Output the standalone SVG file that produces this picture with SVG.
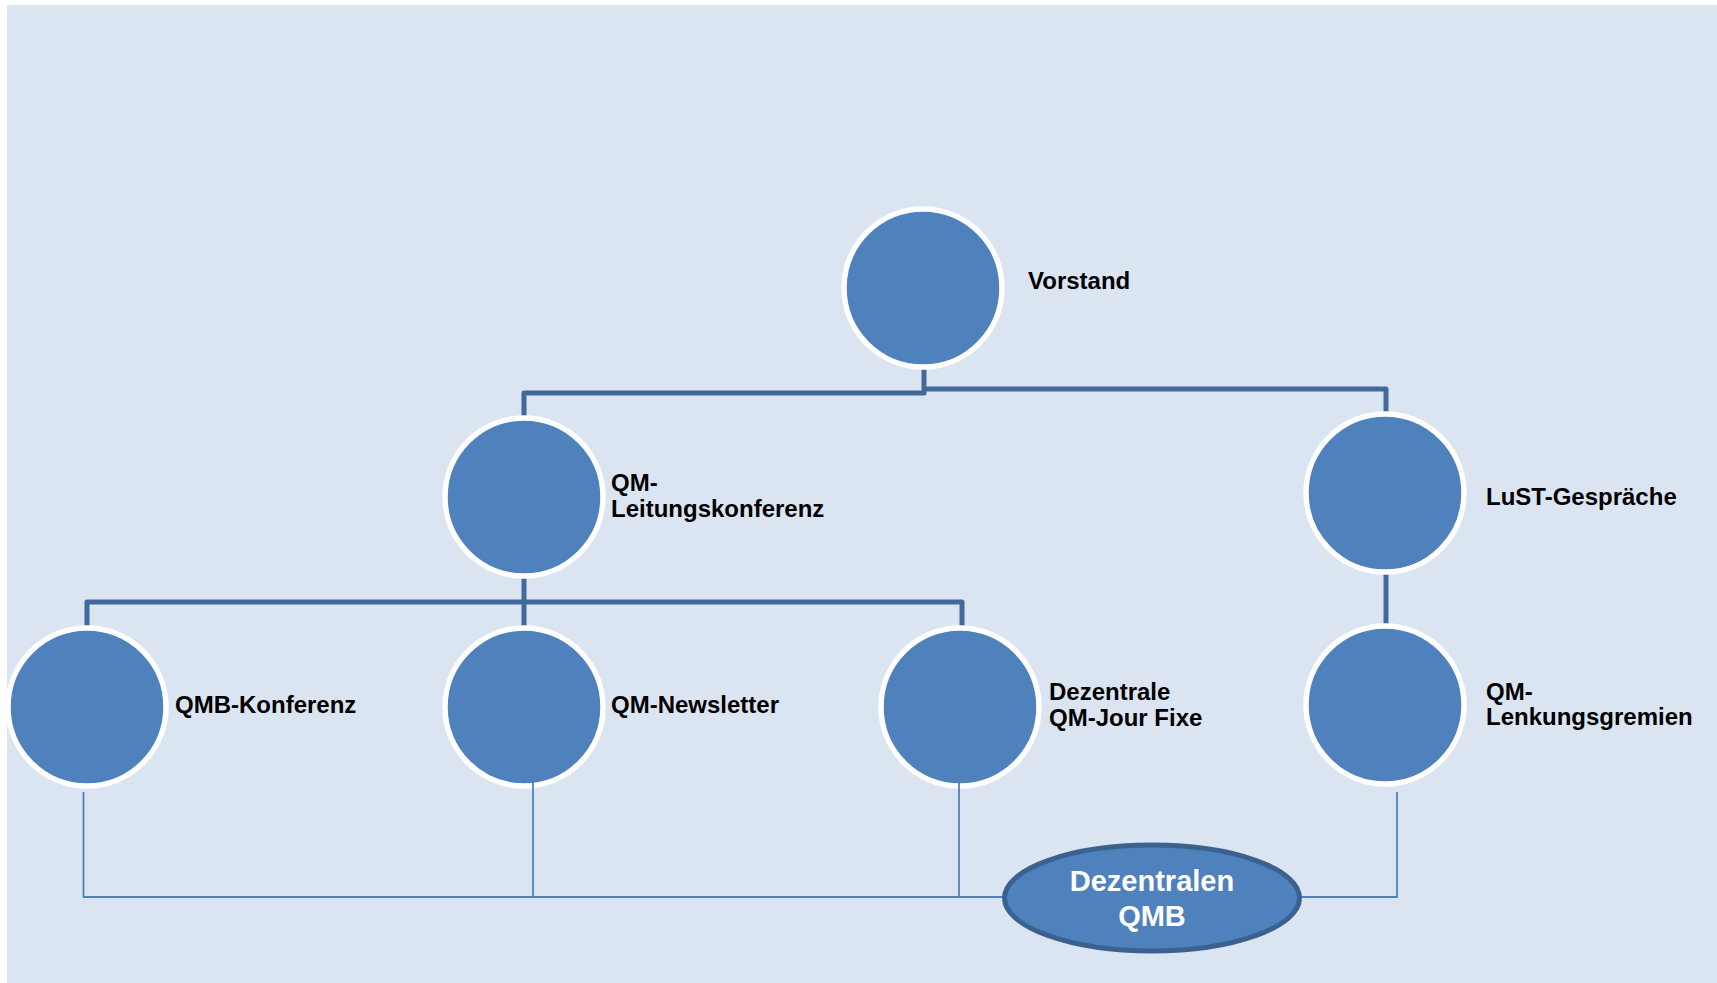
<svg xmlns="http://www.w3.org/2000/svg" width="1717" height="983" viewBox="0 0 1717 983">
  <style>
    .bg { fill: #dbe5f1; }
    .node { fill: #4f81bd; stroke: #ffffff; stroke-width: 5.5; }
    .thick { fill: none; stroke: #41699b; stroke-width: 5; stroke-linejoin: round; }
    .thin { fill: none; stroke: #4f81bd; stroke-width: 1.8; }
    .lbl { font-family: "Liberation Sans", Arial, sans-serif; font-weight: bold; font-size: 24px; fill: #000000; }
    .ell { fill: #4f81bd; stroke: #3a6190; stroke-width: 5; }
    .elbl { font-family: "Liberation Sans", Arial, sans-serif; font-weight: bold; font-size: 29px; fill: #ffffff; text-anchor: middle; }
  </style>
  <rect class="bg" x="7" y="5" width="1710" height="978"/>
  <g id="connectors">
    <path class="thick" d="M924,368 V393 H524 V418"/>
    <path class="thick" d="M924,389 H1386 V414"/>
    <path class="thick" d="M87,627 V602 H962 V627"/>
    <path class="thick" d="M524,576 V627"/>
    <path class="thick" d="M1386,573 V626"/>
  </g>
  <g id="node-vorstand">
    <circle class="node" cx="923" cy="288" r="79"/>
    <text class="lbl" x="1028" y="289">Vorstand</text>
  </g>
  <g id="node-qm-leitungskonferenz">
    <circle class="node" cx="524" cy="497" r="79"/>
    <text class="lbl" x="611" y="491">QM-</text>
    <text class="lbl" x="611" y="517">Leitungskonferenz</text>
  </g>
  <g id="node-lust">
    <circle class="node" cx="1385" cy="493" r="79"/>
    <text class="lbl" x="1486" y="505">LuST-Gespräche</text>
  </g>
  <g id="node-qmb-konferenz">
    <circle class="node" cx="87" cy="707" r="79"/>
    <text class="lbl" x="175" y="713">QMB-Konferenz</text>
  </g>
  <g id="node-qm-newsletter">
    <circle class="node" cx="524" cy="707" r="79"/>
    <text class="lbl" x="611" y="713">QM-Newsletter</text>
  </g>
  <g id="node-jour-fixe">
    <circle class="node" cx="960" cy="707" r="79"/>
    <text class="lbl" x="1049" y="700">Dezentrale</text>
    <text class="lbl" x="1049" y="726">QM-Jour Fixe</text>
  </g>
  <g id="node-lenkungsgremien">
    <circle class="node" cx="1385" cy="705" r="79"/>
    <text class="lbl" x="1486" y="700">QM-</text>
    <text class="lbl" x="1486" y="725">Lenkungsgremien</text>
  </g>
  <g id="connectors-qmb">
    <path class="thin" d="M83.5,792 V897 H1397 V792"/>
    <path class="thin" d="M533,753 V897"/>
    <path class="thin" d="M959,753 V897"/>
  </g>
  <g id="node-dezentralen-qmb">
    <ellipse class="ell" cx="1152" cy="898" rx="147.5" ry="53"/>
    <text class="elbl" x="1152" y="891">Dezentralen</text>
    <text class="elbl" x="1152" y="926">QMB</text>
  </g>
</svg>
